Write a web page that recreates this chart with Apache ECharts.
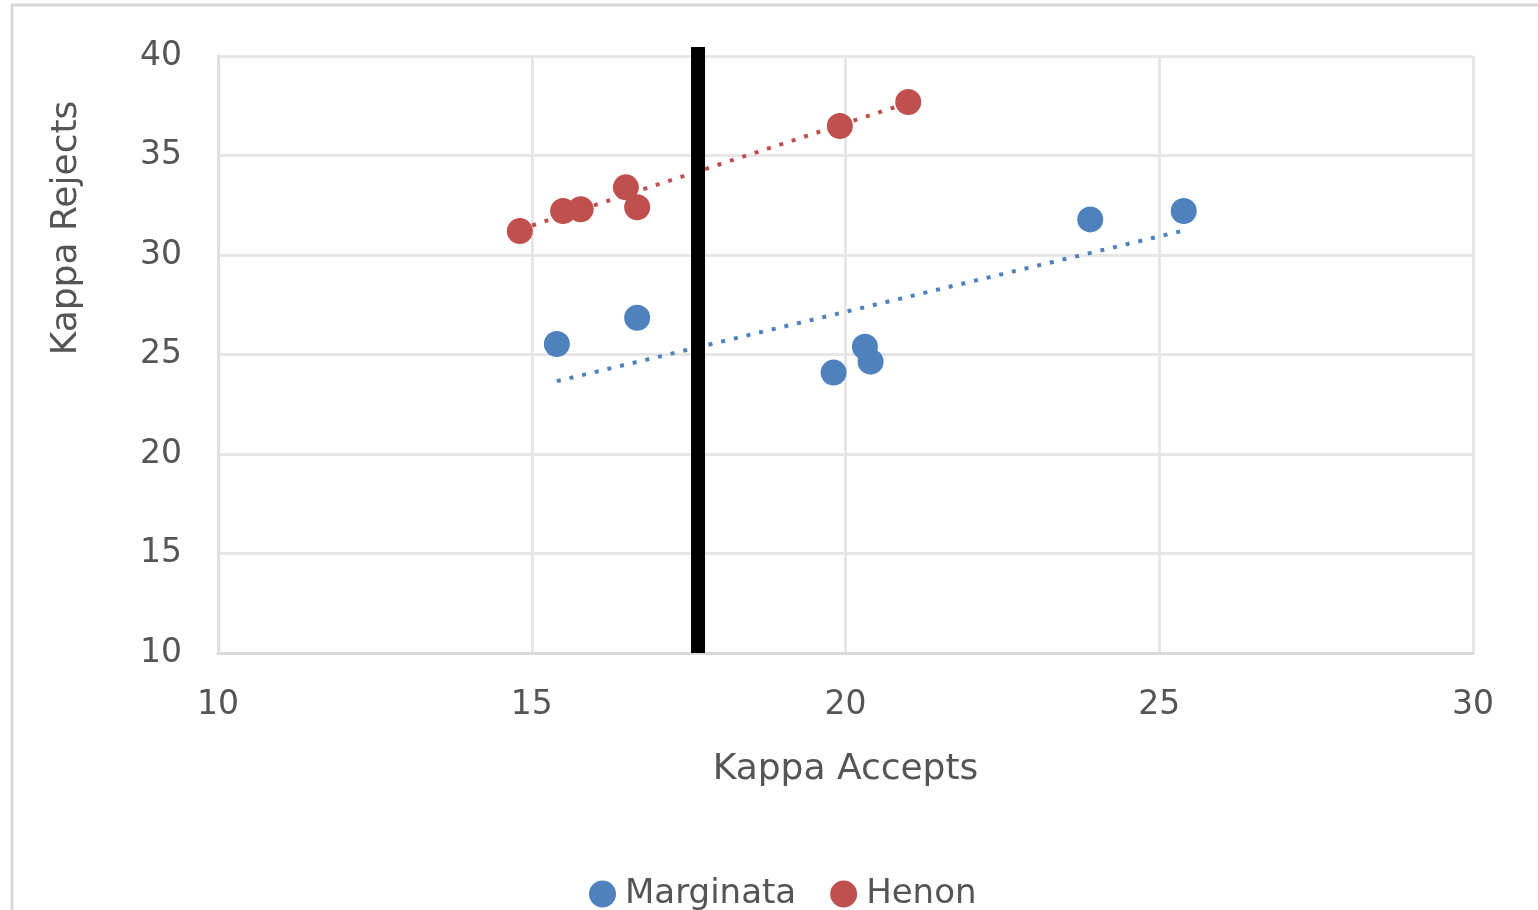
<!DOCTYPE html>
<html>
<head>
<meta charset="utf-8">
<script src="https://cdn.jsdelivr.net/npm/echarts@6/dist/echarts.min.js"></script>
<style>
html,body{margin:0;padding:0;background:#fff;}
#chart{width:1538px;height:910px;}
</style>
</head>
<body>
<div id="chart"></div>
<script>
// Data
const marginataX = [15.40, 16.68, 19.81, 20.31, 20.40, 23.90, 25.39];
const marginataY = [25.53, 26.85, 24.09, 25.39, 24.64, 31.79, 32.21];
const henonX = [14.81, 15.50, 15.78, 16.50, 16.68, 19.91, 21.00];
const henonY = [31.20, 32.21, 32.30, 33.40, 32.40, 36.48, 37.69];
// Dotted trendline end points
const marginataTrendX = [15.40, 25.39];
const marginataTrendY = [23.66, 31.23];
const henonTrendX = [14.81, 21.00];
const henonTrendY = [31.28, 37.65];
const seriesNames = ['Marginata', 'Henon'];
const xTicks = [10, 15, 20, 25, 30];
const yTicks = [10, 15, 20, 25, 30, 35, 40];
const thresholdX = [17.65, 17.65];
const thresholdY = [10, 40.45];

const BLUE = '#4F81BD';
const RED = '#C0504D';
const FONT = 'DejaVu Sans';
const TXT = '#555555';

function pairs(xs, ys) { return xs.map((x, i) => [x, ys[i]]); }

const chart = echarts.init(document.getElementById('chart'), null, {renderer: 'canvas'});
const trendStyle = (c) => ({color: c, width: 4, type: [4, 9], cap: 'butt'});

chart.setOption({
  animation: false,
  backgroundColor: '#fff',
  grid: {left: 218, right: 65, top: 56, bottom: 257, containLabel: false},
  xAxis: {
    type: 'value', min: xTicks[0], max: xTicks[xTicks.length - 1], interval: 5,
    name: 'Kappa Accepts', nameLocation: 'middle', nameGap: 99,
    nameTextStyle: {fontFamily: FONT, fontSize: 36, color: TXT},
    axisLine: {show: true, lineStyle: {color: '#d9d9d9', width: 3}},
    axisTick: {show: false},
    axisLabel: {fontFamily: FONT, fontSize: 33, color: TXT, margin: 36},
    splitLine: {show: true, lineStyle: {color: '#e6e6e6', width: 3}}
  },
  yAxis: {
    type: 'value', min: yTicks[0], max: yTicks[yTicks.length - 1], interval: 5,
    axisLine: {show: true, lineStyle: {color: '#e0e0e0', width: 3}},
    axisTick: {show: false},
    axisLabel: {fontFamily: FONT, fontSize: 33, color: TXT, margin: 36},
    splitLine: {show: true, lineStyle: {color: '#e6e6e6', width: 3}}
  },
  legend: {
    data: seriesNames,
    left: 584, top: 872,
    icon: 'circle', itemWidth: 27, itemHeight: 27, itemGap: 34,
    textStyle: {fontFamily: FONT, fontSize: 34, color: TXT, padding: [0, 0, 0, 4]}
  },
  graphic: [
    {type: 'rect', shape: {x: 12, y: 5, width: 1600, height: 1000},
     style: {fill: 'none', stroke: '#d9d9d9', lineWidth: 3}, silent: true},
    {type: 'text', x: 67, y: 228, rotation: Math.PI / 2,
     style: {text: 'Kappa Rejects', font: '36px "DejaVu Sans"', fill: TXT,
             textAlign: 'center', textVerticalAlign: 'middle'}}
  ],
  series: [
    {name: seriesNames[0], type: 'scatter', data: pairs(marginataX, marginataY),
     symbolSize: 26, itemStyle: {color: BLUE, opacity: 1}, z: 5},
    {name: seriesNames[1], type: 'scatter', data: pairs(henonX, henonY),
     symbolSize: 26, itemStyle: {color: RED, opacity: 1}, z: 5},
    {name: 'trendM', type: 'line', data: pairs(marginataTrendX, marginataTrendY), symbol: 'none',
     lineStyle: trendStyle(BLUE), z: 3, silent: true},
    {name: 'trendH', type: 'line', data: pairs(henonTrendX, henonTrendY), symbol: 'none',
     lineStyle: trendStyle(RED), z: 3, silent: true},
    {name: 'threshold', type: 'line', clip: false,
     data: pairs(thresholdX, thresholdY), symbol: 'none',
     lineStyle: {color: '#000', width: 14, cap: 'butt'}, z: 10, silent: true}
  ]
});
</script>
</body>
</html>
